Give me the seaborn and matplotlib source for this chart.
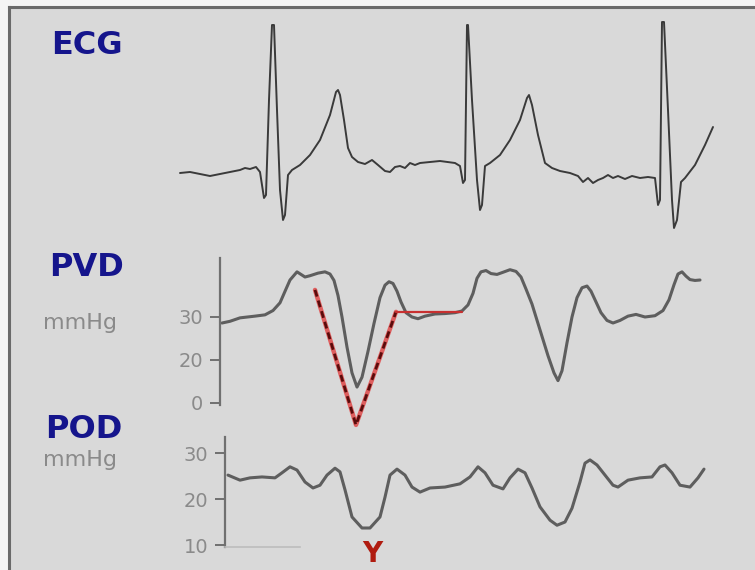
import numpy as np
import matplotlib
matplotlib.use('Agg')
import matplotlib.pyplot as plt
import seaborn as sns

sns.set_style('white')
plt.rcParams['font.family'] = ['DejaVu Sans']

# time axis in samples (shared by the three traces)
ecg_t = [180, 190, 200, 210, 220, 230, 240, 245, 250, 256, 260, 264, 266, 269, 272, 274, 277, 280, 283, 285,
         288, 292, 300, 310, 320, 330, 336, 338, 340, 344, 348, 352, 358, 365, 372, 378, 385, 390, 395, 400,
         405, 410, 415, 420, 430, 440, 455, 460, 463, 465, 467, 468, 472, 477, 480, 482, 485, 490, 500, 510,
         520, 527, 529, 532, 538, 545, 552, 560, 570, 578, 583, 588, 593, 598, 603, 608, 613, 618, 625, 632,
         640, 648, 655, 658, 660, 662, 664, 668, 672, 674, 677, 681, 685, 695, 705, 713]
ecg_mv = [-0.03, -0.02, -0.04, -0.06, -0.04, -0.02, 0.0, 0.02, 0.01, 0.03, -0.02, -0.28, -0.25, 0.70, 1.45, 1.45,
          0.60, -0.20, -0.50, -0.45, -0.05, 0.0, 0.05, 0.15, 0.30, 0.55, 0.78, 0.80, 0.75, 0.50, 0.22, 0.13,
          0.08, 0.06, 0.10, 0.05, -0.01, -0.02, 0.03, 0.04, 0.02, 0.07, 0.05, 0.07, 0.08, 0.09, 0.07, 0.04,
          -0.13, -0.10, 1.45, 1.45, 0.70, -0.10, -0.40, -0.35, 0.04, 0.07, 0.15, 0.30, 0.50, 0.72, 0.75, 0.65,
          0.35, 0.07, 0.02, -0.01, -0.03, -0.06, -0.12, -0.08, -0.13, -0.10, -0.08, -0.05, -0.08, -0.06, -0.09,
          -0.06, -0.08, -0.07, -0.08, -0.35, -0.30, 1.48, 1.48, 0.60, -0.30, -0.58, -0.50, -0.12, -0.08, 0.05,
          0.25, 0.43]

pvd_t = [222, 230, 240, 255, 265, 273, 280, 286, 290, 297, 305, 310, 318, 325, 330, 334, 338, 342, 347, 352,
         357, 362, 368, 374, 380, 385, 389, 393, 397, 401, 406, 412, 418, 425, 435, 445, 455, 462, 468, 473,
         477, 481, 486, 491, 497, 503, 510, 516, 521, 526, 532, 540, 548, 554, 558, 562, 567, 572, 577, 582,
         587, 591, 596, 601, 607, 613, 620, 628, 636, 645, 655, 663, 669, 674, 678, 682, 686, 690, 695, 700]
pvd_mmhg = [28.6, 29.0, 29.8, 30.2, 30.5, 31.5, 33.3, 36.5, 38.6, 40.5, 39.3, 39.6, 40.2, 40.5, 40.0, 38.5,
            35.0, 30.0, 23.0, 17.0, 13.7, 16.0, 22.0, 28.5, 34.5, 37.4, 38.2, 37.8, 36.0, 33.5, 31.0, 30.0,
            29.6, 30.2, 30.7, 30.8, 31.0, 31.4, 32.8, 35.5, 39.0, 40.5, 40.8, 40.1, 39.9, 40.4, 41.0, 40.6,
            39.3, 36.5, 33.0, 27.0, 21.0, 17.0, 15.2, 17.5, 24.0, 30.0, 34.5, 36.8, 37.2, 36.0, 33.5, 31.0,
            29.2, 28.6, 29.2, 30.2, 30.6, 30.0, 30.3, 31.5, 34.0, 37.5, 40.0, 40.5, 39.5, 38.7, 38.5, 38.6]

pod_t = [228, 240, 250, 262, 275, 282, 290, 297, 305, 313, 320, 327, 335, 340, 345, 352, 362, 370, 380, 385,
         390, 397, 405, 412, 420, 430, 445, 460, 470, 478, 485, 493, 503, 510, 518, 525, 532, 540, 550, 557,
         565, 572, 580, 585, 590, 597, 605, 613, 618, 628, 640, 652, 660, 665, 672, 680, 690, 698, 704]
pod_mmhg = [25.2, 24.1, 24.6, 24.8, 24.6, 25.7, 27.0, 26.3, 23.7, 22.4, 23.0, 25.2, 26.7, 25.9, 22.0, 16.1,
            13.7, 13.7, 16.1, 20.4, 25.2, 26.5, 25.2, 22.6, 21.5, 22.4, 22.6, 23.3, 24.8, 27.0, 25.7, 23.0,
            22.2, 24.6, 26.5, 25.7, 22.4, 18.3, 15.4, 14.3, 15.0, 18.0, 23.7, 27.8, 28.5, 27.4, 25.2, 23.0,
            22.6, 24.1, 24.6, 24.8, 27.0, 27.4, 25.7, 23.0, 22.6, 24.6, 26.5]

# red construction line on the PVD trace
y_line_t = [315, 356, 396]
y_line_mmhg = [36.3, 4.9, 31.2]
plateau_t = [396, 462]
plateau_mmhg = [31.2, 31.2]

pvd_ticks = [10, 20, 30]
pvd_ticklabels = ['0', '20', '30']
pod_ticks = [10, 20, 30]
pod_ticklabels = ['10', '20', '30']

W, H = 755, 570
fig = plt.figure(figsize=(W / 100, H / 100), dpi=100)
fig.patch.set_facecolor('#f4f4f4')

# grey panel with dark frame on top and left
bg = fig.add_axes([9 / W, 0, (W - 9) / W, (H - 7) / H])
bg.set_facecolor('#d9d9d9')
bg.set_xticks([])
bg.set_yticks([])
for s in ['right', 'bottom']:
    bg.spines[s].set_visible(False)
for s in ['top', 'left']:
    bg.spines[s].set_color('#6a6a6a')
    bg.spines[s].set_linewidth(2.2)


def band(top, bottom):
    return [0, (H - bottom) / H, 1, (bottom - top) / H]


trace_col = '#5e5e5e'

# ECG
ax1 = fig.add_axes(band(15, 235))
ax1.patch.set_alpha(0)
sns.lineplot(x=ecg_t, y=ecg_mv, sort=False, estimator=None, color='#3a3a3a', lw=1.4, ax=ax1)
ax1.set_xlim(0, W)
ax1.set_ylim(-0.65, 1.55)
ax1.axis('off')

# PVD
ax2 = fig.add_axes(band(250, 430))
ax2.patch.set_alpha(0)
sns.lineplot(x=pvd_t, y=pvd_mmhg, sort=False, estimator=None, color=trace_col, lw=2.2, ax=ax2)
ax2.plot(y_line_t, y_line_mmhg, color='#e04040', lw=3.2, alpha=0.8, solid_capstyle='round')
ax2.plot(y_line_t, y_line_mmhg, color='#5a0c0c', lw=2.0, ls=(0, (2.5, 1.5)))
ax2.plot(plateau_t, plateau_mmhg, color='#c83030', lw=1.6)
ax2.set_xlim(0, W)
ax2.set_ylim(3.72, 45.58)

# POD
ax3 = fig.add_axes(band(432, 570))
ax3.patch.set_alpha(0)
sns.lineplot(x=pod_t, y=pod_mmhg, sort=False, estimator=None, color=trace_col, lw=2.2, ax=ax3)
ax3.set_xlim(0, W)
ax3.set_ylim(4.57, 34.57)

for ax, x0, bounds, ticks, labels in [(ax2, 220, (9.5, 43.7), pvd_ticks, pvd_ticklabels),
                                      (ax3, 225, (9.6, 33.5), pod_ticks, pod_ticklabels)]:
    for s in ['top', 'right', 'bottom']:
        ax.spines[s].set_visible(False)
    ax.spines['left'].set_position(('data', x0))
    ax.spines['left'].set_bounds(*bounds)
    ax.spines['left'].set_color('#707070')
    ax.spines['left'].set_linewidth(1.6)
    ax.set_xticks([])
    ax.set_yticks(ticks)
    ax.set_yticklabels(labels)
    ax.tick_params(axis='y', left=True, direction='out', length=7, width=1.4, color='#707070',
                   pad=5, labelsize=14, labelcolor='#8a8a8a')
    ax.set_xlabel('')
    ax.set_ylabel('')

# faint baseline under the POD scale
ax3.spines['bottom'].set_visible(True)
ax3.spines['bottom'].set_position(('data', 9.6))
ax3.spines['bottom'].set_bounds(225, 300)
ax3.spines['bottom'].set_color('#bdbdbd')
ax3.spines['bottom'].set_linewidth(1.2)

navy = '#15158c'
for label, cx, cy in [('ECG', 87, 46), ('PVD', 87, 268), ('POD', 84, 429)]:
    fig.text(cx / W, 1 - cy / H, label, ha='center', va='center', fontsize=23,
             fontweight='heavy', color=navy)

for cy in [323, 460]:
    fig.text(80 / W, 1 - cy / H, 'mmHg', ha='center', va='center', fontsize=16, color='#8a8a8a')

fig.text(372 / W, 1 - 554 / H, 'Y', ha='center', va='center', fontsize=20,
         fontweight='bold', color='#b01c10')

fig.savefig('out.png', dpi=100, facecolor=fig.get_facecolor())
